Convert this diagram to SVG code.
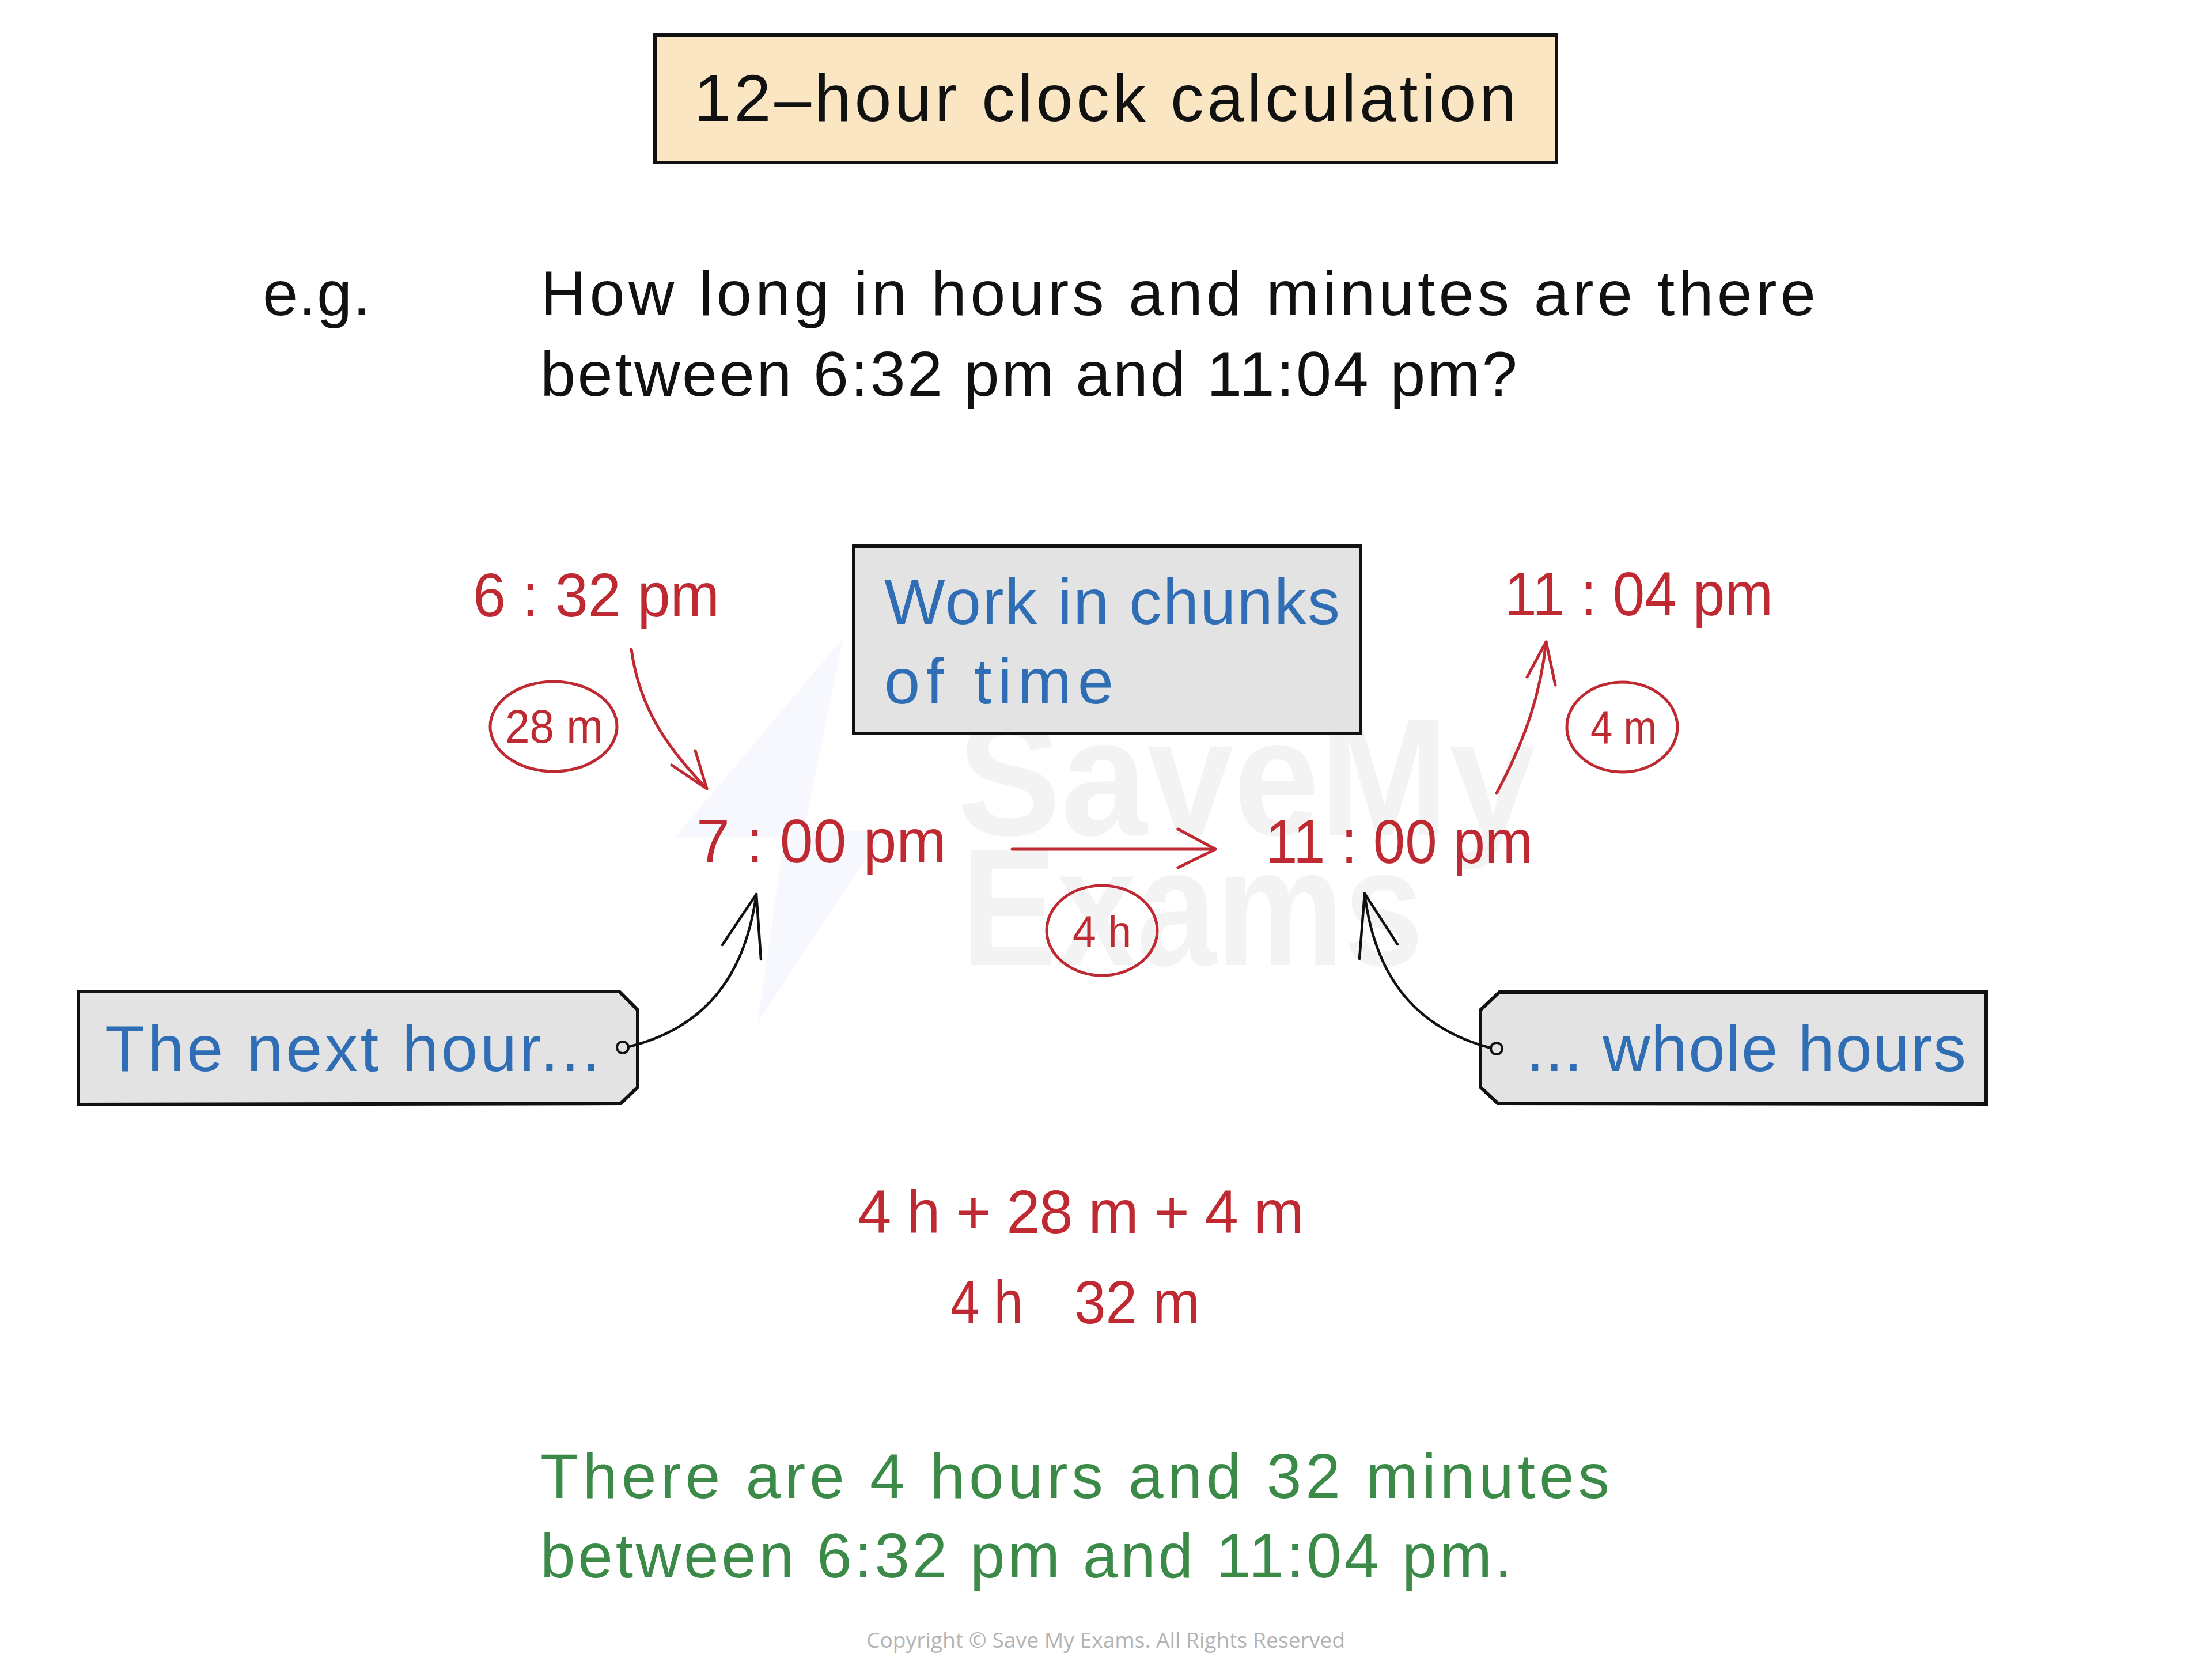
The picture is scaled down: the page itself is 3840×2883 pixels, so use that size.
<svg xmlns="http://www.w3.org/2000/svg" width="3840" height="2883" viewBox="0 0 3840 2883">
<style>
text{font-family:"Liberation Sans","DejaVu Sans",sans-serif;}
.blk{fill:#111111;}
.red{fill:#BF2A32;}
.blue{fill:#2F6DB5;}
.green{fill:#3B8A48;}
.box{stroke:#111111;stroke-width:6;}
.rline{fill:none;stroke:#BF2A32;stroke-width:5;stroke-linecap:round;stroke-linejoin:round;}
.kline{fill:none;stroke:#111111;stroke-width:4.5;stroke-linecap:round;stroke-linejoin:round;}
.wm{fill:#F3F3F3;font-family:"Liberation Sans",sans-serif;font-weight:bold;}
</style>
<rect width="3840" height="2883" fill="#ffffff"/>
<g id="watermark">
<polygon points="1464,1107 1173,1452 1362,1452 1315,1776 1535,1443 1395,1443" fill="#F6F8FD"/>
<text class="wm" x="1662" y="1449" font-size="290" textLength="1003" lengthAdjust="spacingAndGlyphs">SaveMy</text>
<text class="wm" x="1669" y="1675" font-size="290" textLength="802" lengthAdjust="spacingAndGlyphs">Exams</text>
</g>
<g id="title">
<rect class="box" x="1137" y="61" width="1565" height="221" fill="#FAE6C3"/>
<text class="blk" x="1205" y="210" font-size="115" textLength="1427" lengthAdjust="spacing">12–hour clock calculation</text>
</g>
<g id="question">
<text class="blk" x="456" y="547" font-size="110" textLength="187" lengthAdjust="spacing">e.g.</text>
<text class="blk" x="938" y="547" font-size="110" textLength="2214" lengthAdjust="spacing">How long in hours and minutes are there</text>
<text class="blk" x="938" y="687" font-size="110" textLength="1696" lengthAdjust="spacing">between 6:32 pm and 11:04 pm?</text>
</g>
<g id="chunks-note">
<rect class="box" x="1482" y="948" width="880" height="325" fill="#E3E3E3"/>
<text class="blue" x="1535" y="1083" font-size="112" textLength="791" lengthAdjust="spacing">Work in chunks</text>
<text class="blue" x="1535" y="1221" font-size="112" textLength="398" lengthAdjust="spacing">of time</text>
</g>
<g id="t632"><text class="red" x="821" y="1070" font-size="107" textLength="428" lengthAdjust="spacingAndGlyphs">6 : 32 pm</text></g>
<g id="t1104"><text class="red" x="2612" y="1068" font-size="107" textLength="466" lengthAdjust="spacingAndGlyphs">11 : 04 pm</text></g>
<g id="t700"><text class="red" x="1209" y="1497" font-size="107" textLength="434" lengthAdjust="spacingAndGlyphs">7 : 00 pm</text></g>
<g id="t1100"><text class="red" x="2197" y="1498" font-size="107" textLength="464" lengthAdjust="spacingAndGlyphs">11 : 00 pm</text></g>
<g id="c28m">
<ellipse class="rline" cx="961" cy="1261" rx="110" ry="78"/>
<text class="red" x="877" y="1289" font-size="81" textLength="170" lengthAdjust="spacingAndGlyphs">28 m</text>
</g>
<g id="c4h">
<ellipse class="rline" cx="1913" cy="1615" rx="96" ry="78"/>
<text class="red" x="1862" y="1643" font-size="76" textLength="102" lengthAdjust="spacingAndGlyphs">4 h</text>
</g>
<g id="c4m">
<ellipse class="rline" cx="2816" cy="1262" rx="96" ry="78"/>
<text class="red" x="2761" y="1291" font-size="81" textLength="115" lengthAdjust="spacingAndGlyphs">4 m</text>
</g>
<g id="tag-left">
<polygon class="box" points="136,1721 1075,1721 1107,1753 1107,1887 1078,1915 136,1917" fill="#E3E3E3" stroke-width="5"/>
<text class="blue" x="182" y="1859" font-size="114" textLength="860" lengthAdjust="spacing">The next hour...</text>
<circle cx="1081" cy="1818" r="10" fill="#E3E3E3" stroke="#111" stroke-width="4"/>
</g>
<g id="tag-right">
<polygon class="box" points="2603,1722 3448,1722 3448,1916 2600,1915 2570,1887 2570,1753" fill="#E3E3E3" stroke-width="5"/>
<text class="blue" x="2649" y="1859" font-size="114" textLength="764" lengthAdjust="spacing">... whole hours</text>
<circle cx="2598" cy="1820" r="10" fill="#E3E3E3" stroke="#111" stroke-width="4"/>
</g>
<g id="connectors">
<path class="rline" d="M1096,1127 C1110,1230 1160,1300 1227,1369"/>
<path class="rline" d="M1166,1328 L1227,1369 L1207,1303"/>
<path class="rline" d="M1757,1474 L2110,1474"/>
<path class="rline" d="M2045,1439 L2110,1474 L2045,1506"/>
<path class="rline" d="M2598,1377 C2650,1280 2675,1200 2684,1114"/>
<path class="rline" d="M2651,1175 L2684,1114 L2700,1189"/>
<path class="kline" d="M1091,1817 C1200,1790 1290,1720 1313,1552"/>
<path class="kline" d="M1254,1640 L1313,1552 L1321,1665"/>
<path class="kline" d="M2588,1819 C2480,1790 2390,1720 2369,1551"/>
<path class="kline" d="M2360,1664 L2369,1551 L2426,1639"/>
</g>
<g id="working">
<text class="red" x="1489" y="2140" font-size="105" textLength="775" lengthAdjust="spacing">4 h + 28 m + 4 m</text>
<text class="red" y="2297" font-size="105"><tspan x="1650" textLength="126" lengthAdjust="spacingAndGlyphs">4 h</tspan><tspan x="1865" textLength="218" lengthAdjust="spacingAndGlyphs">32 m</tspan></text>
</g>
<g id="answer">
<text class="green" x="938" y="2600" font-size="109" textLength="1856" lengthAdjust="spacing">There are 4 hours and 32 minutes</text>
<text class="green" x="938" y="2738" font-size="109" textLength="1687" lengthAdjust="spacing">between 6:32 pm and 11:04 pm.</text>
</g>
<g id="copyright">
<text x="1504" y="2860" font-size="37" fill="#B3B3B3" style="font-family:'Open Sans','Liberation Sans',sans-serif" textLength="831" lengthAdjust="spacingAndGlyphs">Copyright © Save My Exams. All Rights Reserved</text>
</g>
</svg>
